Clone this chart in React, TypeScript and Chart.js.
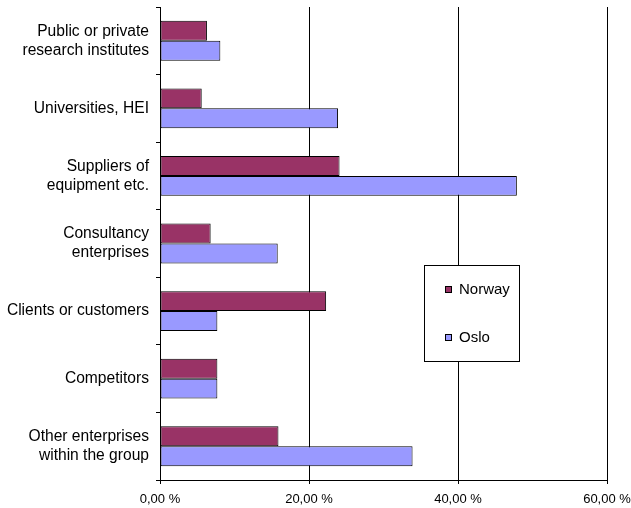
import React, { useEffect, useRef } from "react";
import { Chart, registerables } from "chart.js";

Chart.register(...registerables);

const categories: string[][] = [
  ["Public or private", "research institutes"],
  ["Universities, HEI"],
  ["Suppliers of", "equipment etc."],
  ["Consultancy", "enterprises"],
  ["Clients or customers"],
  ["Competitors"],
  ["Other enterprises", "within the group"],
];

const norwayValues = [6.3, 5.6, 24.1, 6.8, 22.3, 7.7, 15.9];
const osloValues = [8.1, 23.9, 47.9, 15.8, 7.7, 7.7, 33.9];

const seriesNames = ["Norway", "Oslo"];
const seriesColors = ["#993366", "#9999FF"];

const xTicks = [0, 20, 40, 60];

const FONT = "'Liberation Sans', Arial, sans-serif";

const legendPlugin = {
  id: "boxLegend",
  afterDraw(chart: any) {
    const ctx = chart.ctx;
    const x = 424, y = 265, w = 95, h = 96;
    ctx.save();
    ctx.fillStyle = "#ffffff";
    ctx.fillRect(x, y, w, h);
    ctx.strokeStyle = "#000000";
    ctx.lineWidth = 1;
    ctx.strokeRect(x + 0.5, y + 0.5, w, h);
    ctx.font = `15px ${FONT}`;
    ctx.textBaseline = "middle";
    ctx.textAlign = "left";
    chart.data.datasets.forEach((ds: any, i: number) => {
      const cy = 289 + i * 48;
      ctx.fillStyle = ds.backgroundColor;
      ctx.fillRect(445, cy - 3, 7, 7);
      ctx.strokeStyle = "#000000";
      ctx.strokeRect(445.5, cy - 3 + 0.5, 6, 6);
      ctx.fillStyle = "#000000";
      ctx.fillText(ds.label, 459, cy + 1);
    });
    ctx.restore();
  },
};

export default function App() {
  const ref = useRef<HTMLCanvasElement>(null);
  useEffect(() => {
    document.body.style.margin = "0";
    const chart = new Chart(ref.current!, {
      type: "bar",
      data: {
        labels: categories,
        datasets: [
          {
            label: seriesNames[0],
            data: norwayValues,
            backgroundColor: seriesColors[0],
            borderColor: "#000000",
            borderWidth: 1,
            borderSkipped: false,
          },
          {
            label: seriesNames[1],
            data: osloValues,
            backgroundColor: seriesColors[1],
            borderColor: "#000000",
            borderWidth: 1,
            borderSkipped: false,
          },
        ],
      },
      options: {
        indexAxis: "y",
        responsive: false,
        animation: false,
        events: [],
        layout: { padding: { top: 7, right: 24, left: 0, bottom: 0 } },
        datasets: { bar: { categoryPercentage: 0.59, barPercentage: 1 } },
        plugins: { legend: { display: false }, tooltip: { enabled: false } },
        scales: {
          x: {
            min: 0,
            max: 60,
            afterBuildTicks: (scale: any) => {
              scale.ticks = xTicks.map((v) => ({ value: v }));
            },
            afterFit: (scale: any) => {
              scale.height = 28;
              scale.paddingLeft = 0;
              scale.paddingRight = 0;
            },
            grid: { color: "#000000", lineWidth: 1, tickLength: 4, drawTicks: true },
            border: { display: true, color: "#000000" },
            ticks: {
              color: "#000000",
              font: { family: FONT, size: 13 },
              padding: 8,
              maxRotation: 0,
              callback: (v: any) => Number(v).toFixed(2).replace(".", ",") + " %",
            },
          },
          y: {
            afterFit: (scale: any) => {
              scale.width = 160;
              scale.paddingTop = 0;
              scale.paddingBottom = 0;
            },
            grid: { drawOnChartArea: false, color: "#000000", tickLength: 4, offset: true },
            border: { display: true, color: "#000000" },
            ticks: {
              color: "#000000",
              font: { family: FONT, size: 15.6, lineHeight: 1.22 },
              padding: 7,
            },
          },
        },
      },
      plugins: [legendPlugin],
    } as any);
    return () => chart.destroy();
  }, []);
  return (
    <div style={{ position: "absolute", left: 0, top: 0, width: 631, height: 508 }}>
      <canvas ref={ref} width={631} height={508} />
    </div>
  );
}
